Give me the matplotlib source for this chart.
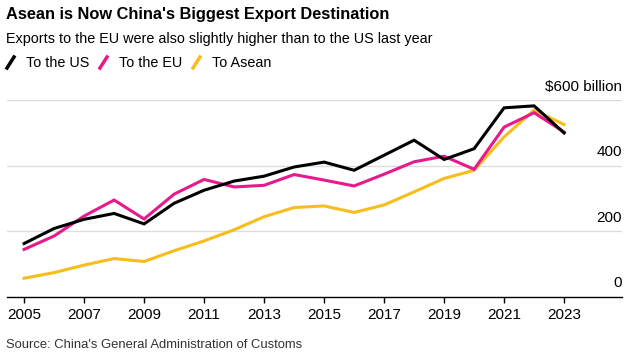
import matplotlib
matplotlib.use("Agg")
import matplotlib.pyplot as plt
from matplotlib.lines import Line2D

years = list(range(2005, 2024))
to_us = [162, 208, 236, 254, 222, 285, 325, 353, 368, 396, 411,
         386, 432, 478, 419, 452, 577, 583, 500]
to_eu = [144, 185, 246, 295, 237, 313, 358, 335, 340, 373, 356,
         338, 374, 412, 429, 389, 518, 562, 503]
to_asean = [56, 73, 96, 116, 107, 140, 170, 204, 244, 272, 277,
            257, 280, 320, 361, 386, 488, 570, 526]

series_names = ["To the US", "To the EU", "To Asean"]
colors = ["#000000", "#e8198b", "#f7bd1a"]
xtick_years = list(range(2005, 2024, 2))
ytick_vals = [0, 200, 400]

plt.rcParams['font.family'] = ['Liberation Sans', 'DejaVu Sans']

fig = plt.figure(figsize=(6.43, 3.57), dpi=100)
ax = fig.add_axes([7 / 643, 1 - 296.5 / 357, 615 / 643, 196.2 / 357])

# draw order: yellow, pink, black on top
ax.plot(years, to_asean, color=colors[2], lw=2.2, solid_joinstyle='miter', zorder=3)
ax.plot(years, to_eu, color=colors[1], lw=2.2, solid_joinstyle='miter', zorder=4)
ax.plot(years, to_us, color=colors[0], lw=2.2, solid_joinstyle='miter', zorder=5)

ax.set_xlim(2004.43, 2024.93)
ax.set_ylim(0, 600)

for v in [200, 400, 600]:
    ax.axhline(v, color='#dddddd', lw=1.0, zorder=1)

for s in ['top', 'right', 'left']:
    ax.spines[s].set_visible(False)
ax.spines['bottom'].set_color('black')
ax.spines['bottom'].set_linewidth(1.0)

ax.set_xticks(xtick_years)
ax.set_xticklabels([str(y) for y in xtick_years], fontsize=11)
ax.tick_params(axis='x', length=4, width=1, pad=4.5, colors='black')
ax.set_yticks([])

# y labels sit above gridlines, right aligned
for v in ytick_vals:
    ax.text(1.0, v + 20, str(v), transform=ax.get_yaxis_transform(),
            ha='right', va='bottom', fontsize=11)
ax.text(1.0, 620, "$600 billion", transform=ax.get_yaxis_transform(),
        ha='right', va='bottom', fontsize=11)

fig.text(6 / 643, 1 - 14 / 357, "Asean is Now China's Biggest Export Destination",
         fontsize=11.8, fontweight='bold', va='center', ha='left')
fig.text(6 / 643, 1 - 39 / 357, "Exports to the EU were also slightly higher than to the US last year",
         fontsize=10.4, va='center', ha='left')

# legend with slanted strokes
leg_x = [7, 100, 193]
for name, c, x0 in zip(series_names, colors, leg_x):
    fig.add_artist(Line2D([x0 / 643, (x0 + 7) / 643],
                          [1 - 68 / 357, 1 - 57 / 357],
                          color=c, lw=2.5, transform=fig.transFigure))
    fig.text((x0 + 19) / 643, 1 - 63 / 357, name, fontsize=10.4,
             va='center', ha='left')

fig.text(6 / 643, 1 - 345 / 357, "Source: China's General Administration of Customs",
         fontsize=9.4, va='center', ha='left', color='#333333')

fig.savefig("out.png", dpi=100)
